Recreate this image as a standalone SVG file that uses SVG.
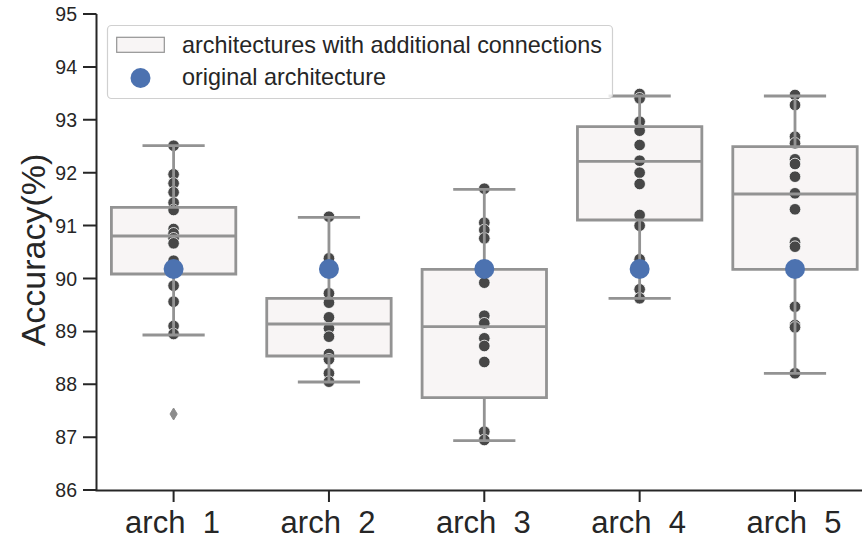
<svg xmlns="http://www.w3.org/2000/svg" width="862" height="539" viewBox="0 0 862 539">
<style>
text{font-family:"Liberation Sans",Arial,sans-serif;fill:#262626}
.ytl{font-size:19.5px;text-anchor:end}
.xtl{font-size:31px;text-anchor:middle}
.ax{stroke:#262626;stroke-width:2;fill:none}
.bf{fill:#f8f5f5;stroke:none}
.bl{stroke:#939393;stroke-width:2.8;fill:none}
.d{fill:#474747;stroke:#fff;stroke-width:0.8}
.o{fill:#4c72b0}
</style>
<defs>
<circle id="p" r="5.8" class="d"/>
<circle id="b" r="10" class="o"/>
</defs>
<rect width="862" height="539" fill="#fff"/>
<g id="axes">
<path class="ax" d="M96.5,14V490.5H862"/>
<path class="ax" d="M83,14H96.5M83,66.9H96.5M83,119.8H96.5M83,172.7H96.5M83,225.6H96.5M83,278.5H96.5M83,331.4H96.5M83,384.3H96.5M83,437.2H96.5M83,490.1H96.5"/>
<path class="ax" d="M173.6,490.5V502M328.95,490.5V502M484.3,490.5V502M639.65,490.5V502M795,490.5V502"/>
<text class="ytl" x="77" y="21">95</text>
<text class="ytl" x="77" y="73.9">94</text>
<text class="ytl" x="77" y="126.8">93</text>
<text class="ytl" x="77" y="179.7">92</text>
<text class="ytl" x="77" y="232.6">91</text>
<text class="ytl" x="77" y="285.5">90</text>
<text class="ytl" x="77" y="338.4">89</text>
<text class="ytl" x="77" y="391.3">88</text>
<text class="ytl" x="77" y="444.2">87</text>
<text class="ytl" x="77" y="497.1">86</text>
<text class="xtl" x="172.5" y="533" xml:space="preserve">arch  1</text>
<text class="xtl" x="328" y="533" xml:space="preserve">arch  2</text>
<text class="xtl" x="483.3" y="533" xml:space="preserve">arch  3</text>
<text class="xtl" x="638.6" y="533" xml:space="preserve">arch  4</text>
<text class="xtl" x="794" y="533" xml:space="preserve">arch  5</text>
<text x="0" y="0" font-size="34" text-anchor="middle" transform="translate(45,250) rotate(-90)">Accuracy(%)</text>
</g>
<g id="arch1">
<rect class="bf" x="111.4" y="207.3" width="124.4" height="66.7"/>
<g>
<use href="#p" x="173.6" y="145.7"/><use href="#p" x="173.6" y="174.3"/><use href="#p" x="173.6" y="183.3"/><use href="#p" x="173.6" y="192.3"/><use href="#p" x="173.6" y="202.7"/><use href="#p" x="173.6" y="210"/><use href="#p" x="173.6" y="229"/><use href="#p" x="173.6" y="233.3"/><use href="#p" x="173.6" y="238.3"/><use href="#p" x="173.6" y="243.3"/><use href="#p" x="173.6" y="260.7"/><use href="#p" x="173.6" y="285.7"/><use href="#p" x="173.6" y="301.7"/><use href="#p" x="173.6" y="326"/><use href="#p" x="173.6" y="334"/>
</g>
<path class="bl" d="M111.4,207.3H235.8V274H111.4ZM111.4,236H235.8M173.6,207.3V145.7M142.5,145.7H204.7M173.6,274V335M142.5,335H204.7"/>
<path d="M173.6,408L177.2,414L173.6,420L170,414Z" fill="#8c8c8c" stroke="#8c8c8c" stroke-width="1"/>
<use href="#b" x="173.6" y="269"/>
</g>
<g id="arch2">
<rect class="bf" x="266.75" y="298.3" width="124.4" height="57.7"/>
<g>
<use href="#p" x="328.95" y="216.7"/><use href="#p" x="328.95" y="258.3"/><use href="#p" x="328.95" y="293.3"/><use href="#p" x="328.95" y="302.7"/><use href="#p" x="328.95" y="317.3"/><use href="#p" x="328.95" y="328.3"/><use href="#p" x="328.95" y="336.7"/><use href="#p" x="328.95" y="354"/><use href="#p" x="328.95" y="359.3"/><use href="#p" x="328.95" y="373.3"/><use href="#p" x="328.95" y="381.7"/>
</g>
<path class="bl" d="M266.75,298.3H391.15V356H266.75ZM266.75,324H391.15M328.95,298.3V217.3M297.85,217.3H360.05M328.95,356V382M297.85,382H360.05"/>
<use href="#b" x="328.95" y="269"/>
</g>
<g id="arch3">
<rect class="bf" x="422.1" y="269.3" width="124.4" height="128.4"/>
<g>
<use href="#p" x="484.3" y="188.7"/><use href="#p" x="484.3" y="222.7"/><use href="#p" x="484.3" y="230"/><use href="#p" x="484.3" y="238.3"/><use href="#p" x="484.3" y="282.7"/><use href="#p" x="484.3" y="315.7"/><use href="#p" x="484.3" y="323.3"/><use href="#p" x="484.3" y="338.3"/><use href="#p" x="484.3" y="346"/><use href="#p" x="484.3" y="362"/><use href="#p" x="484.3" y="431.7"/><use href="#p" x="484.3" y="440"/>
</g>
<path class="bl" d="M422.1,269.3H546.5V397.7H422.1ZM422.1,326.7H546.5M484.3,269.3V189.3M453.2,189.3H515.4M484.3,397.7V440.7M453.2,440.7H515.4"/>
<use href="#b" x="484.3" y="269"/>
</g>
<g id="arch4">
<rect class="bf" x="577.45" y="126.7" width="124.4" height="93.3"/>
<g>
<use href="#p" x="639.65" y="94"/><use href="#p" x="639.65" y="98.3"/><use href="#p" x="639.65" y="121.7"/><use href="#p" x="639.65" y="130.7"/><use href="#p" x="639.65" y="145"/><use href="#p" x="639.65" y="160.7"/><use href="#p" x="639.65" y="172.7"/><use href="#p" x="639.65" y="184"/><use href="#p" x="639.65" y="215"/><use href="#p" x="639.65" y="225.7"/><use href="#p" x="639.65" y="259.3"/><use href="#p" x="639.65" y="289.3"/><use href="#p" x="639.65" y="298.3"/>
</g>
<path class="bl" d="M577.45,126.7H701.85V220H577.45ZM577.45,161.3H701.85M639.65,126.7V96M608.55,96H670.75M639.65,220V298.3M608.55,298.3H670.75"/>
<use href="#b" x="639.65" y="269"/>
</g>
<g id="arch5">
<rect class="bf" x="732.8" y="146.7" width="124.4" height="122.6"/>
<g>
<use href="#p" x="795" y="95"/><use href="#p" x="795" y="105"/><use href="#p" x="795" y="136.7"/><use href="#p" x="795" y="143.3"/><use href="#p" x="795" y="159.3"/><use href="#p" x="795" y="164"/><use href="#p" x="795" y="176.7"/><use href="#p" x="795" y="193.3"/><use href="#p" x="795" y="209.3"/><use href="#p" x="795" y="242.3"/><use href="#p" x="795" y="246.7"/><use href="#p" x="795" y="306.7"/><use href="#p" x="795" y="325"/><use href="#p" x="795" y="327.3"/><use href="#p" x="795" y="373.3"/>
</g>
<path class="bl" d="M732.8,146.7H857.2V269.3H732.8ZM732.8,194H857.2M795,146.7V96M763.9,96H826.1M795,269.3V373.3M763.9,373.3H826.1"/>
<use href="#b" x="795" y="269"/>
</g>
<g id="legend">
<rect x="107.5" y="25.5" width="505" height="73" rx="4" fill="#fff" fill-opacity="0.8" stroke="#d0d0d0" stroke-width="1.2"/>
<rect x="116.7" y="37.3" width="47.6" height="15" fill="#f8f5f5" stroke="#939393" stroke-width="1.2"/>
<use href="#b" x="140.5" y="78"/>
<text x="182" y="52.5" font-size="23.4">architectures with additional connections</text>
<text x="182" y="85" font-size="23.4">original architecture</text>
</g>
</svg>
